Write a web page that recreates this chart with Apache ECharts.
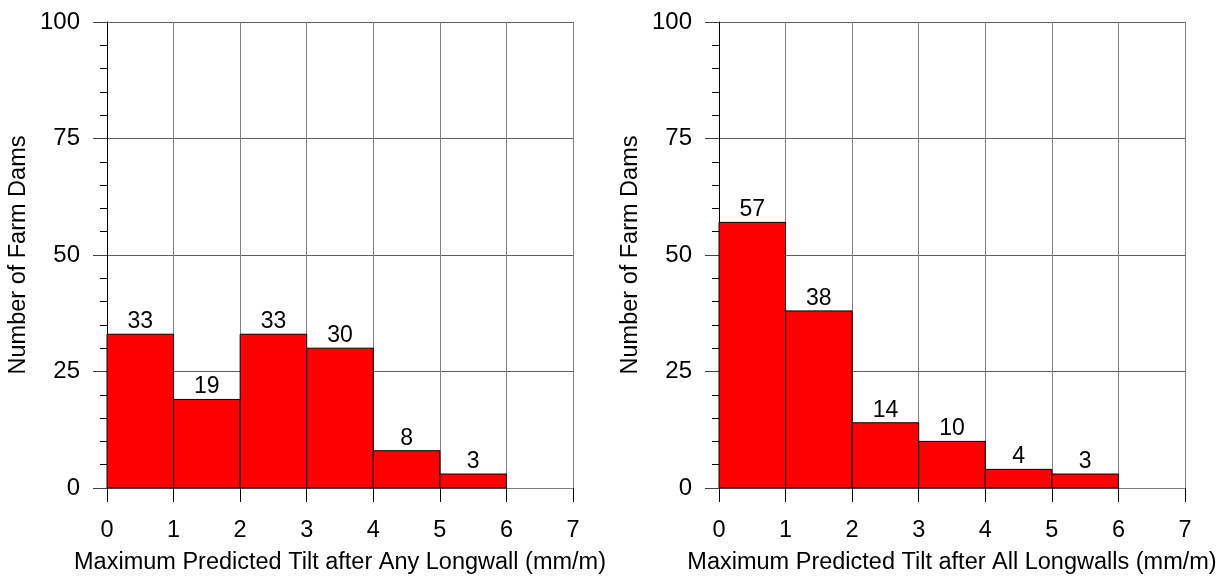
<!DOCTYPE html>
<html>
<head>
<meta charset="utf-8">
<script src="https://cdn.jsdelivr.net/npm/echarts@6/dist/echarts.min.js"></script>
<style>
html,body{margin:0;padding:0;background:#fff;}
#c{width:1227px;height:578px;}
</style>
</head>
<body>
<div id="c"></div>
<script>
var binEdges = [0, 1, 2, 3, 4, 5, 6];
var anyLongwall = [33, 19, 33, 30, 8, 3];
var allLongwalls = [57, 38, 14, 10, 4, 3];
var xTicks = [0, 1, 2, 3, 4, 5, 6, 7];
var yTicks = [0, 25, 50, 75, 100];
var xTitles = ['Maximum Predicted Tilt after Any Longwall (mm/m)', 'Maximum Predicted Tilt after All Longwalls (mm/m)'];
var yTitle = 'Number of Farm Dams';

var FONT = 'Liberation Sans, Arial, sans-serif';

function binData(vals) {
  return vals.map(function (v, i) { return [binEdges[i], binEdges[i + 1], v]; });
}

function renderBar(params, api) {
  var x0 = api.value(0), x1 = api.value(1), v = api.value(2);
  var p0 = api.coord([x0, 0]);
  var p1 = api.coord([x1, v]);
  return {
    type: 'group',
    children: [
      {
        type: 'rect',
        shape: { x: p0[0], y: p1[1], width: p1[0] - p0[0], height: p0[1] - p1[1] },
        style: { fill: '#ff0000', stroke: '#000000', lineWidth: 1 }
      },
      {
        type: 'text',
        x: (p0[0] + p1[0]) / 2,
        y: p1[1] - 1,
        style: {
          text: String(v),
          fill: '#000',
          font: '23px ' + FONT,
          align: 'center',
          verticalAlign: 'bottom'
        }
      }
    ]
  };
}

var grids = [
  { left: 107, top: 22, width: 466, height: 466, containLabel: false, outerBoundsMode: 'none' },
  { left: 719, top: 22, width: 466, height: 466, containLabel: false, outerBoundsMode: 'none' }
];

function xAxis(i) {
  return {
    type: 'value', gridIndex: i, min: xTicks[0], max: xTicks[xTicks.length - 1], interval: 1,
    name: xTitles[i], nameLocation: 'middle', nameGap: 63,
    nameTextStyle: { fontFamily: FONT, fontSize: 23.5, color: '#000' },
    axisLine: { show: true, onZero: false, lineStyle: { color: '#808080', width: 1 } },
    axisTick: { show: true, length: 14, lineStyle: { color: '#000', width: 1 } },
    axisLabel: { margin: 31, fontFamily: FONT, fontSize: 23.5, color: '#000' },
    splitLine: { show: true, lineStyle: { color: '#808080', width: 1 } }
  };
}
function yAxis(i) {
  return {
    type: 'value', gridIndex: i, min: yTicks[0], max: yTicks[yTicks.length - 1], interval: 25,
    name: yTitle, nameLocation: 'middle', nameGap: 76, nameRotate: 90,
    nameTextStyle: { fontFamily: FONT, fontSize: 23.5, color: '#000' },
    axisLine: { show: true, lineStyle: { color: '#000', width: 1 } },
    axisTick: { show: true, length: 14, lineStyle: { color: '#404040', width: 1 } },
    minorTick: { show: true, splitNumber: 5, length: 7, lineStyle: { color: '#000', width: 1 } },
    axisLabel: { margin: 27, fontFamily: FONT, fontSize: 24, color: '#000' },
    splitLine: { show: true, lineStyle: { color: '#606060', width: 1 } }
  };
}

var chart = echarts.init(document.getElementById('c'), null, { renderer: 'canvas' });
chart.setOption({
  animation: false,
  backgroundColor: '#fff',
  grid: grids,
  xAxis: [xAxis(0), xAxis(1)],
  yAxis: [yAxis(0), yAxis(1)],
  series: [
    { type: 'custom', xAxisIndex: 0, yAxisIndex: 0, renderItem: renderBar, data: binData(anyLongwall), encode: { x: [0, 1], y: 2 } },
    { type: 'custom', xAxisIndex: 1, yAxisIndex: 1, renderItem: renderBar, data: binData(allLongwalls), encode: { x: [0, 1], y: 2 } }
  ]
});
</script>
</body>
</html>
